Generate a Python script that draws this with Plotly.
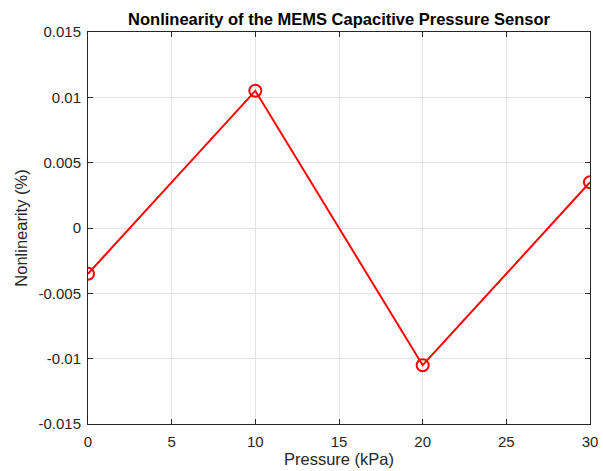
import plotly.graph_objects as go

pressure = [0, 10, 20, 30]
nonlinearity = [-0.0035, 0.0105, -0.0105, 0.0035]
x_ticks = [0, 5, 10, 15, 20, 25, 30]
y_ticks = [-0.015, -0.01, -0.005, 0, 0.005, 0.01, 0.015]
y_labels = ["-0.015", "-0.01", "-0.005", "0", "0.005", "0.01", "0.015"]

FONT = "Liberation Sans, Arial"

fig = go.Figure()
fig.add_trace(go.Scatter(
    x=pressure, y=nonlinearity, mode="lines+markers",
    line=dict(color="#ff0000", width=2),
    marker=dict(symbol="circle-open", size=12, color="#ff0000", line=dict(width=2)),
    showlegend=False,
))

axis_common = dict(
    showline=True, linecolor="#262626", linewidth=1, mirror="ticks",
    ticks="inside", ticklen=5, tickcolor="#262626",
    showgrid=True, gridcolor="#e3e3e3", gridwidth=1, zeroline=False,
    automargin=False,
    tickfont=dict(family=FONT, size=15, color="#262626"),
)

fig.update_layout(
    width=603, height=471,
    margin=dict(l=88, r=13, t=32, b=47),
    paper_bgcolor="white", plot_bgcolor="white",
    title=dict(text="<b>Nonlinearity of the MEMS Capacitive Pressure Sensor</b>",
               x=0.5, xref="paper", xanchor="center", y=1, yref="paper", yanchor="bottom",
               pad=dict(b=7),
               font=dict(family=FONT, size=16.5, color="black")),
    xaxis=dict(range=[0, 30], tickvals=x_ticks, ticklabelstandoff=4,
               title=dict(text="Pressure (kPa)", standoff=1,
                          font=dict(family=FONT, size=16.5, color="#262626")),
               **axis_common),
    yaxis=dict(range=[-0.015, 0.015], tickvals=y_ticks, ticktext=y_labels,
               ticklabelstandoff=3,
               title=dict(text="Nonlinearity (%)", standoff=6,
                          font=dict(family=FONT, size=16.5, color="#262626")),
               **axis_common),
)

fig.write_html("out.html")
